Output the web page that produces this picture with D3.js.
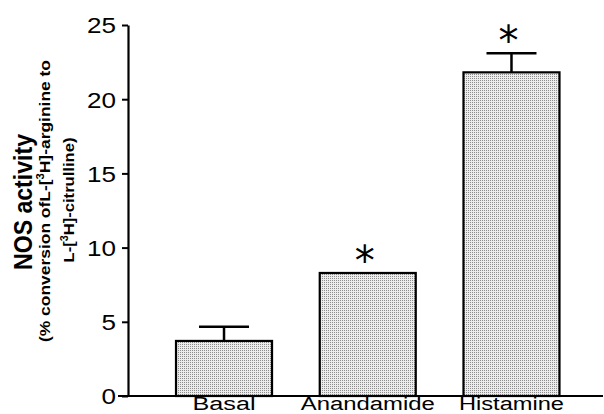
<!DOCTYPE html>
<html><head><meta charset="utf-8">
<script src="https://cdn.jsdelivr.net/npm/d3@7"></script>
<style>body{margin:0;background:#fff}svg{display:block}</style>
</head><body>
<svg id="chart" width="604" height="414"></svg>
<script>
const categories = ["Basal", "Anandamide", "Histamine"];
const values = [3.71, 8.29, 21.81];
const errors = [0.96, 0, 1.29];
const significant = [false, true, true];
const yTicks = [0, 5, 10, 15, 20, 25];

const svg = d3.select("#chart");
const font = "'Liberation Sans', Arial, Helvetica, sans-serif";

const defs = svg.append("defs");
const pat = defs.append("pattern").attr("id", "dots").attr("patternUnits", "userSpaceOnUse")
  .attr("width", 2).attr("height", 2);
pat.append("rect").attr("width", 2).attr("height", 2).attr("fill", "#ececec");
pat.append("rect").attr("width", 1).attr("height", 1).attr("fill", "#8c8c8c");

const x = d3.scaleBand().domain(categories).range([128, 607.5]).paddingInner(0.332).paddingOuter(0.334);
const y = d3.scaleLinear().domain([0, 25]).range([396, 25]);

// bars
svg.selectAll("rect.bar").data(categories).join("rect").attr("class", "bar")
  .attr("x", d => x(d)).attr("width", x.bandwidth())
  .attr("y", (d, i) => y(values[i])).attr("height", (d, i) => y(0) - y(values[i]))
  .attr("fill", "url(#dots)").attr("stroke", "#000").attr("stroke-width", 2.2);

// error bars
const eg = svg.append("g").attr("stroke", "#000").attr("stroke-width", 2.5);
categories.forEach((c, i) => {
  if (!errors[i]) return;
  const cx = x(c) + x.bandwidth() / 2;
  eg.append("line").attr("x1", cx).attr("x2", cx).attr("y1", y(values[i])).attr("y2", y(values[i] + errors[i]));
  eg.append("line").attr("x1", cx - 25).attr("x2", cx + 25).attr("y1", y(values[i] + errors[i])).attr("y2", y(values[i] + errors[i]));
});

// asterisks
svg.selectAll("text.star").data(categories.filter((c, i) => significant[i])).join("text").attr("class", "star")
  .attr("x", d => x(d) + x.bandwidth() / 2 - 3)
  .attr("y", d => { const i = categories.indexOf(d); return y(values[i] + errors[i]) - 20; })
  .attr("dy", "0.55em")
  .attr("text-anchor", "middle").attr("font-family", "'DejaVu Sans', sans-serif").attr("font-size", 40)
  .text("*");

// y axis
const yAxis = svg.append("g").attr("transform", "translate(128,0)")
  .call(d3.axisLeft(y).tickValues(yTicks).tickSize(6).tickPadding(6).tickSizeOuter(0));
yAxis.select(".domain").attr("stroke-width", 2.2);
yAxis.selectAll(".tick line").attr("stroke-width", 2);
yAxis.selectAll(".tick text").attr("font-family", font).attr("font-size", 22).attr("fill", "#000").attr("dy", "0.36em")
  .attr("textLength", d => String(d).length * 14.5).attr("lengthAdjust", "spacingAndGlyphs");

// x axis
const labelWidths = {Basal: 63, Anandamide: 134, Histamine: 105};
const xAxis = svg.append("g").attr("transform", "translate(0,396)")
  .call(d3.axisBottom(x).tickSize(0).tickPadding(0));
xAxis.select(".domain").remove();
xAxis.selectAll(".tick text").attr("font-family", font).attr("font-size", 18).attr("fill", "#000")
  .attr("y", 14).attr("dy", 0)
  .attr("textLength", d => labelWidths[d]).attr("lengthAdjust", "spacingAndGlyphs");
svg.append("line").attr("x1", 118).attr("x2", 603).attr("y1", 396).attr("y2", 396)
  .attr("stroke", "#000").attr("stroke-width", 2.2);

// y title
const t = svg.append("g").attr("font-family", font).attr("font-weight", "bold").attr("text-anchor", "middle");
t.append("text").attr("transform", "translate(32,202) rotate(-90)").attr("font-size", 25)
  .attr("textLength", 136).attr("lengthAdjust", "spacingAndGlyphs").text("NOS activity");
const l2 = t.append("text").attr("transform", "translate(50,201) rotate(-90)").attr("font-size", 15.5)
  .attr("textLength", 282).attr("lengthAdjust", "spacingAndGlyphs");
l2.append("tspan").text("(% conversion ofL-[");
l2.append("tspan").attr("font-size", 10).attr("dy", -6).text("3");
l2.append("tspan").attr("dy", 6).text("H]-arginine to");
const l3 = t.append("text").attr("transform", "translate(74,200) rotate(-90)").attr("font-size", 15.5)
  .attr("textLength", 125).attr("lengthAdjust", "spacingAndGlyphs");
l3.append("tspan").text("L-[");
l3.append("tspan").attr("font-size", 10).attr("dy", -6).text("3");
l3.append("tspan").attr("dy", 6).text("H]-citrulline)");
</script>
</body></html>
